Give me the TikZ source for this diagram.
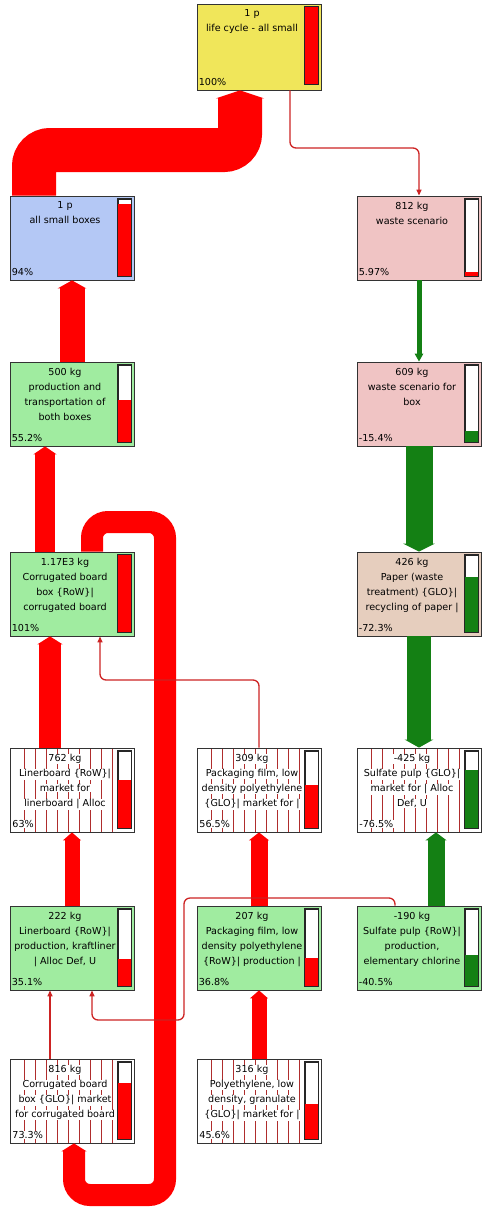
\documentclass[tikz,border=0pt]{standalone}
\usepackage{fontspec}
\setmainfont{DejaVu Sans}
\usetikzlibrary{arrows.meta}

\definecolor{topyellow}{RGB}{240,230,90}
\definecolor{setblue}{RGB}{180,200,245}
\definecolor{wastepink}{RGB}{240,196,196}
\definecolor{procgreen}{RGB}{160,236,160}
\definecolor{papertan}{RGB}{230,206,190}
\definecolor{flowred}{RGB}{255,0,0}
\definecolor{thinred}{RGB}{205,35,35}
\definecolor{flowgreen}{RGB}{20,128,20}
\definecolor{hatchred}{RGB}{175,45,45}

\newcommand{\wl}[1]{{\fboxsep=0.6pt\colorbox{white}{#1}}}

\tikzset{
  proc/.style={draw=black!80, line width=0.8pt, minimum width=124pt, minimum height=84pt, inner sep=0pt},
  market/.style={fill=white, path picture={
      \foreach \i in {0,...,8}
        \draw[hatchred, line width=0.6pt] ([xshift=14pt+\i*11pt]path picture bounding box.north west)
          -- ([xshift=14pt+\i*11pt]path picture bounding box.south west);}},
  bar/.style={draw=black!85, fill=white, anchor=north east, minimum width=13pt, minimum height=77pt, inner sep=0pt, line width=0.8pt},
  proctext/.style={anchor=north, align=center, inner sep=0pt, font=\fontsize{9.6}{15}\selectfont},
  pct/.style={anchor=base west, inner sep=0pt, font=\fontsize{9.6}{12}\selectfont},
  thinflow/.style={thinred, line width=1.3pt, rounded corners=6pt, -{Triangle[length=6pt,width=5pt]}},
  band/.style={flowred, rounded corners=16pt, -{Triangle[length=8pt,width=2pt 1.05]}},
  gband/.style={flowgreen, -{Triangle[length=8pt,width=3pt 1.05]}},
}

% box: name, centre, style, text, percent, bar fraction, bar colour
\newcommand{\procbox}[7]{%
  \node[proc, #3] (#1) at (#2) {};
  \node[proctext] (#1t) at ([xshift=-7pt,yshift=-6pt]#1.north) {#4};
  \node[pct] (#1p) at ([xshift=2pt,yshift=5pt]#1.south west) {#5};
  \node[bar] (#1b) at ([xshift=-3pt,yshift=-3pt]#1.north east) {};
  \fill[#7] (#1b.south west) rectangle ([yshift=#6*77pt]#1b.south east);
  \draw[black!85, line width=0.8pt] (#1b.south west) rectangle (#1b.north east);
}

\begin{document}
\begin{tikzpicture}[x=1pt, y=-1pt]
    \useasboundingbox (0,0) rectangle (482,1216);

    % processes
    \procbox{top}{259,47}{fill=topyellow, minimum height=86pt}{1 p\\life cycle - all small}{100\%}{1}{flowred}
    \procbox{blue}{72,238}{fill=setblue}{1 p\\all small boxes}{94\%}{0.94}{flowred}
    \procbox{waste}{419,238}{fill=wastepink}{812 kg\\waste scenario}{5.97\%}{0.0597}{flowred}
    \procbox{prod}{72,404}{fill=procgreen}{500 kg\\production and\\transportation of\\both boxes}{55.2\%}{0.552}{flowred}
    \procbox{wbox}{419,404}{fill=wastepink}{609 kg\\waste scenario for\\box}{-15.4\%}{0.154}{flowgreen}
    \procbox{board}{72,594}{fill=procgreen}{1.17E3 kg\\Corrugated board\\box \{RoW\}|\\corrugated board}{101\%}{1}{flowred}
    \procbox{paper}{419,594}{fill=papertan}{426 kg\\Paper (waste\\treatment) \{GLO\}|\\recycling of paper |}{-72.3\%}{0.723}{flowgreen}
    \procbox{liner}{72,790}{market}{\wl{762 kg}\\\wl{Linerboard \{RoW\}|}\\\wl{market for}\\\wl{linerboard | Alloc}}{\wl{63\%}}{0.63}{flowred}
    \procbox{film}{259,790}{market}{\wl{309 kg}\\\wl{Packaging film, low}\\\wl{density polyethylene}\\\wl{\{GLO\}| market for |}}{\wl{56.5\%}}{0.565}{flowred}
    \procbox{pulp}{419,790}{market}{\wl{-425 kg}\\\wl{Sulfate pulp \{GLO\}|}\\\wl{market for | Alloc}\\\wl{Def, U}}{\wl{-76.5\%}}{0.765}{flowgreen}
    \procbox{lprod}{72,948}{fill=procgreen}{222 kg\\Linerboard \{RoW\}|\\production, kraftliner\\| Alloc Def, U}{35.1\%}{0.351}{flowred}
    \procbox{fprod}{259,948}{fill=procgreen}{207 kg\\Packaging film, low\\density polyethylene\\\{RoW\}| production |}{36.8\%}{0.368}{flowred}
    \procbox{prow}{419,948}{fill=procgreen}{-190 kg\\Sulfate pulp \{RoW\}|\\production,\\elementary chlorine}{-40.5\%}{0.405}{flowgreen}
    \procbox{bmarket}{72,1101}{market}{\wl{816 kg}\\\wl{Corrugated board}\\\wl{box \{GLO\}| market}\\\wl{for corrugated board}}{\wl{73.3\%}}{0.733}{flowred}
    \procbox{pmarket}{259,1101}{market}{\wl{316 kg}\\\wl{Polyethylene, low}\\\wl{density, granulate}\\\wl{\{GLO\}| market for |}}{\wl{45.6\%}}{0.456}{flowred}

    % red flows
    \draw[band, line width=44pt] ([xshift=-38pt]blue.north) -- (34,150) -- (240,150) -- ([xshift=-19pt]top.south);
    \draw[thinflow] ([xshift=31pt]top.south) -- (290,148) -- (419,148) -- (waste.north);
    \draw[band, line width=25pt] (prod.north) -- (blue.south);
    \draw[band, line width=20pt] ([xshift=-27pt]board.north) -- ([xshift=-27pt]prod.south);
    \draw[band, line width=22pt] ([xshift=-22pt]liner.north) -- ([xshift=-22pt]board.south);
    \draw[band, line width=22pt] ([xshift=20pt]board.north) -- (92,522) -- (165,522) -- (165,1195) -- (74,1195) -- ([xshift=2pt]bmarket.south);
    \draw[thinflow] (film.north) -- (259,680) -- (100,680) -- ([xshift=28pt]board.south);
    \draw[band, line width=15pt] (lprod.north) -- (liner.south);
    \draw[band, line width=17pt] (fprod.north) -- (film.south);
    \draw[band, line width=15pt] (pmarket.north) -- (fprod.south);
    \draw[thinflow] ([xshift=-22pt]bmarket.north) -- ([xshift=-22pt]lprod.south);
    \draw[thinflow] ([xshift=-24pt]prow.north) -- (395,898) -- (184,898) -- (184,1020) -- (92,1020) -- ([xshift=20pt]lprod.south);

    % green flows
    \draw[gband, line width=5pt] (waste.south) -- (wbox.north);
    \draw[gband, line width=27pt] (wbox.south) -- (paper.north);
    \draw[gband, line width=24pt] (paper.south) -- (pulp.north);
    \draw[gband, line width=17pt] ([xshift=17pt]prow.north) -- ([xshift=17pt]pulp.south);

\end{tikzpicture}
\end{document}
